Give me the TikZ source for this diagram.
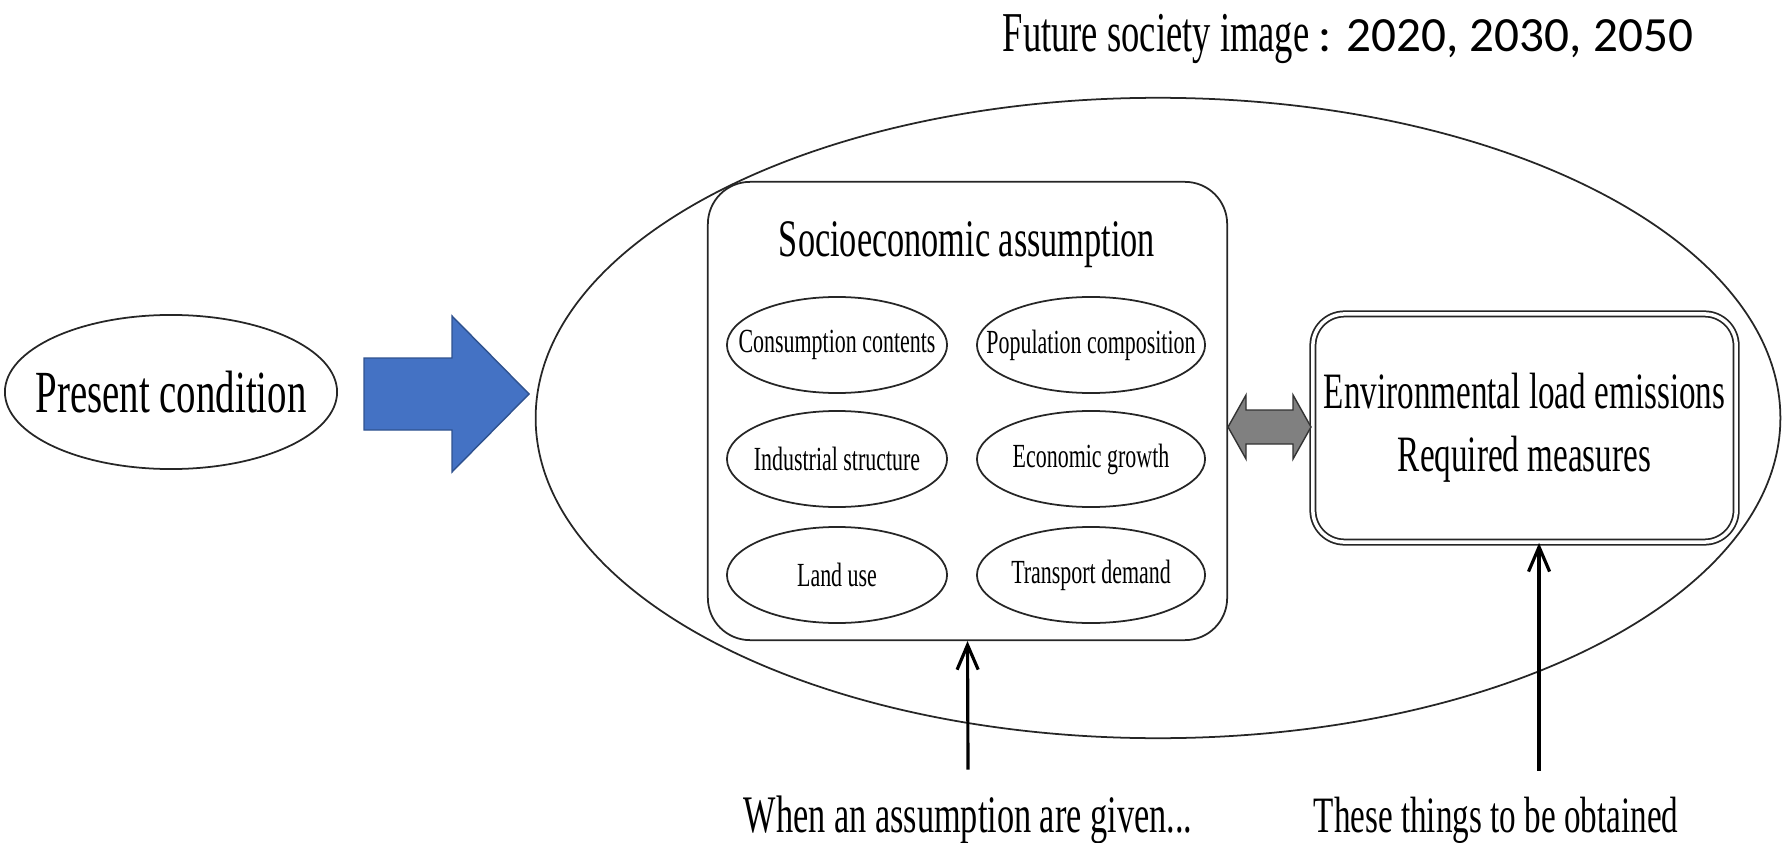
\documentclass[tikz,border=0pt]{standalone}
\usepackage{fontspec}
\newfontfamily\narrowserif{Liberation Serif}[FakeStretch=0.65]
\newfontfamily\calibrifont{Carlito}
\usetikzlibrary{shapes.geometric, arrows.meta}

\definecolor{officeblue}{HTML}{4472C4}
\definecolor{officeblueline}{HTML}{2F528F}

\tikzset{
	blob/.style = {draw = black!85, line width = 0.5pt, ellipse, inner sep = 0pt},
	factor/.style = {blob, minimum height = 9.6mm, font = \narrowserif\fontsize{9.6pt}{11pt}\selectfont},
	roundbox/.style = {draw = black!85, line width = 0.5pt, rounded corners = 12pt, inner sep = 0pt},
	pointer/.style = {line width = 0.9pt, -{Straight Barb[length = 7pt, width = 6pt]}},
	caption/.style = {font = \narrowserif\fontsize{14.5pt}{17pt}\selectfont, inner sep = 0pt, anchor = base},
}

\begin{document}
\begin{tikzpicture} [x = 0.01cm, y = -0.01cm]
	\useasboundingbox (0, 0) rectangle (1783, 843) ;

	\node [inner sep = 0pt, anchor = base west] (title) at (1002, 52) {\narrowserif\fontsize{16pt}{19pt}\selectfont Future society image {\calibrifont\fontsize{14pt}{17pt}\selectfont : 2020, 2030, 2050}} ;

	\node [blob, minimum width = 124.4mm, minimum height = 64mm] (future) at (1158, 418) {} ;
	\node [blob, minimum width = 33.2mm, minimum height = 15.4mm, font = \narrowserif\fontsize{17pt}{20pt}\selectfont] (present) at (171, 392) {\makebox[0pt]{Present condition}} ;

	% block arrow, present -> future
	\filldraw [fill = officeblue, draw = officeblueline, line width = 0.4pt] (364, 358) -- (452, 358) -- (452, 316) -- (529, 394) -- (452, 472) -- (452, 430) -- (364, 430) -- cycle ;

	\node [roundbox, minimum width = 51.9mm, minimum height = 45.8mm] (socio) at (967.5, 411) {} ;
	\node [font = \narrowserif\fontsize{15pt}{18pt}\selectfont] (sociotitle) at (967, 245) {Socioeconomic assumption} ;

	\node [factor, minimum width = 22mm] (consumption) at (837, 345) {\makebox[0pt]{Consumption contents}} ;
	\node [factor, minimum width = 22.8mm] (population) at (1091, 345) {\makebox[0pt]{Population composition}} ;
	\node [factor, minimum width = 22mm] (industry) at (837, 459) {\makebox[0pt]{Industrial structure}} ;
	\node [factor, minimum width = 22.8mm] (growth) at (1091, 459) {\makebox[0pt]{Economic growth}} ;
	\node [factor, minimum width = 22mm] (landuse) at (837, 575) {\makebox[0pt]{Land use}} ;
	\node [factor, minimum width = 22.8mm] (transport) at (1091, 575) {\makebox[0pt]{Transport demand}} ;

	\node [roundbox, double, double distance = 1pt, rounded corners = 9pt, minimum width = 42.3mm, minimum height = 22.8mm, align = center, font = \narrowserif\fontsize{14.5pt}{18pt}\selectfont] (env) at (1524.5, 428) {Environmental load emissions\\Required measures} ;

	% two-way block arrow between the boxes
	\filldraw [fill = black!50, draw = black!80, line width = 0.4pt] (1228, 427) -- (1246, 395) -- (1246, 410) -- (1293, 410) -- (1293, 395) -- (1311, 427) -- (1293, 459) -- (1293, 444) -- (1246, 444) -- (1246, 459) -- cycle ;

	\node [caption, font = \narrowserif\fontsize{15pt}{17pt}\selectfont] (given) at (968, 832) {When an assumption are given...} ;
	\node [caption] (obtained) at (1496, 832) {These things to be obtained} ;

	\draw [pointer] ([yshift = 2.5mm] given.north) -- (socio.south) ;
	\coordinate (obtainedtop) at ([xshift = 4.3mm, yshift = 2.5mm] obtained.north) ;
	\draw [pointer] (obtainedtop) -- (obtainedtop |- env.south) ;

\end{tikzpicture}
\end{document}
